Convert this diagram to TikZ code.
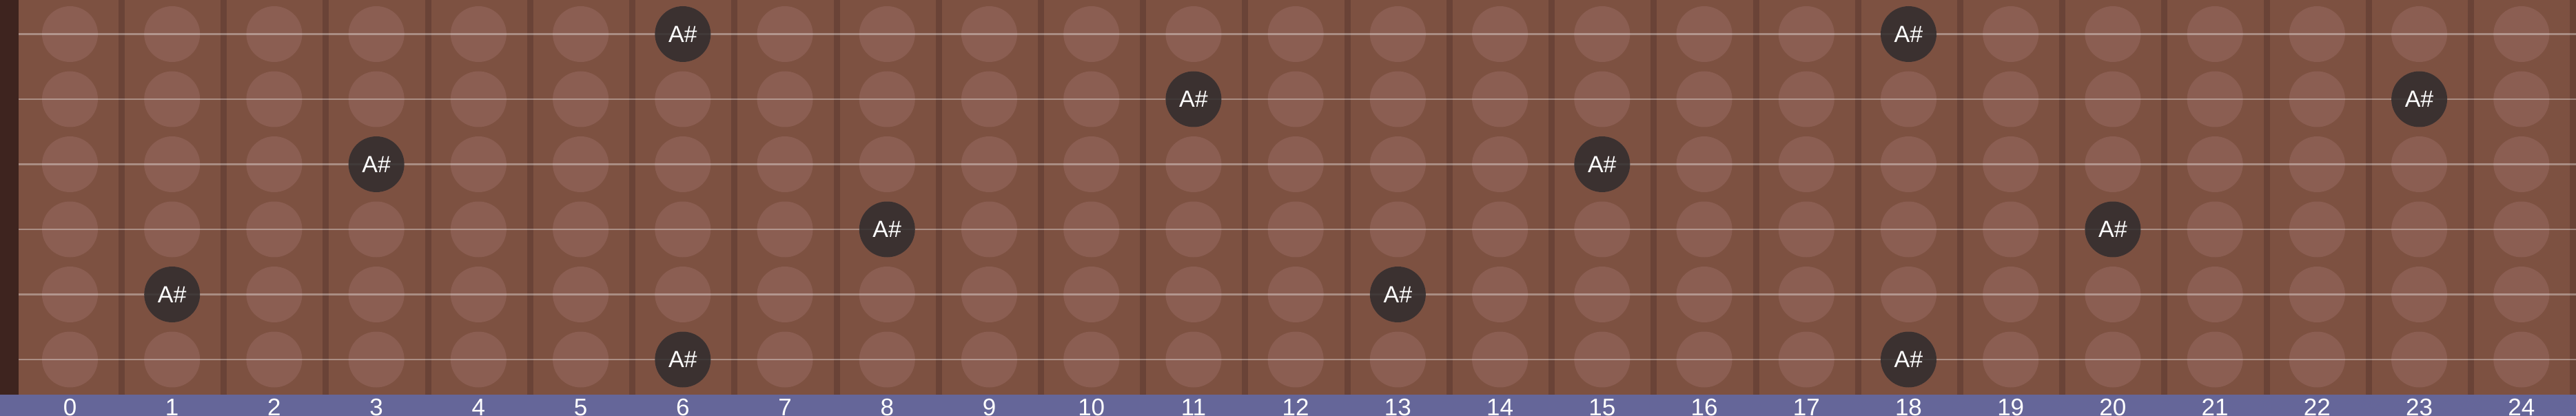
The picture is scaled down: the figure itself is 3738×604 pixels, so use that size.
\documentclass[tikz,border=0pt]{standalone}
\usepackage{fontspec}
\setmainfont{Liberation Sans}
\definecolor{board}{RGB}{125,81,65}
\definecolor{fretc}{RGB}{106,67,55}
\definecolor{ghost}{RGB}{139,94,82}
\definecolor{notec}{RGB}{46,42,43}
\definecolor{nutc}{RGB}{62,36,31}
\definecolor{barc}{RGB}{101,102,153}
\begin{document}
\begin{tikzpicture}[x=1pt,y=-1pt,
  ghostdot/.style={circle,fill=ghost,minimum size=81pt,inner sep=0pt},
  notedot/.style={circle,fill=notec,fill opacity=0.85,text opacity=1,text=white,minimum size=81pt,inner sep=0pt,font=\fontsize{34}{34}\selectfont},
  fretnum/.style={text=white,font=\fontsize{35}{35}\selectfont,anchor=base,inner sep=0pt},
  stringline/.style={draw=white,draw opacity=0.35,line width=2.5pt},
  fretwire/.style={draw=fretc,line width=9pt}]
\useasboundingbox (0,0) rectangle (3738,604);
\clip (0,0) rectangle (3738,604);
\fill[board] (0,0) rectangle (3738,573);
\fill[nutc] (0,0) rectangle (27,573);
\foreach \k in {1,...,25}
  \draw[fretwire] ({176.5+148.22*(\k-1)},0) -- ({176.5+148.22*(\k-1)},573);
\foreach \s in {0,...,5}
  \foreach \n in {0,...,24}
    \node[ghostdot] (g-\s-\n) at ({101.5+148.22*\n},{49.5+94.5*\s}) {};
\foreach \s in {0,...,5}
  \draw[stringline] (27,{49.5+94.5*\s}) -- (3738,{49.5+94.5*\s});
\foreach \s/\n in {0/6,0/18,1/11,1/23,2/3,2/15,3/8,3/20,4/1,4/13,5/6,5/18}
  \node[notedot] (note-\s-\n) at ({101.5+148.22*\n},{49.5+94.5*\s}) {A\#};
\fill[barc] (0,573) rectangle (3738,604);
\foreach \n in {0,...,24}
  \node[fretnum] (num-\n) at ({101.5+148.22*\n},603) {\n};
\end{tikzpicture}
\end{document}
